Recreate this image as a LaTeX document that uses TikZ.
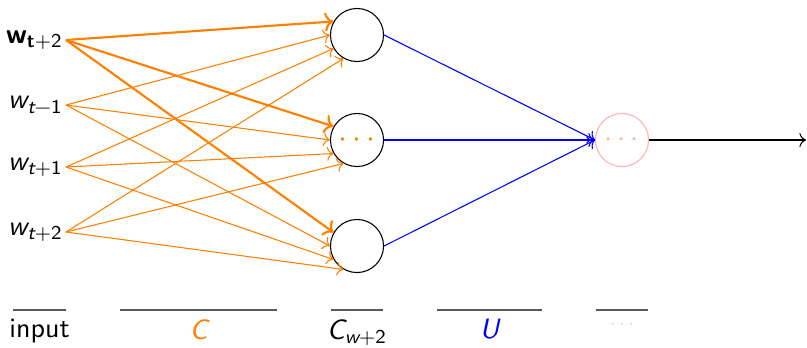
\documentclass[tikz,border=0pt]{standalone}
\usepackage{tikz}
\usetikzlibrary{arrows.meta, positioning, calc}
\definecolor{orange1}{RGB}{255, 128, 0}
\definecolor{blue1}{RGB}{0, 0, 255}
\definecolor{pink1}{RGB}{255, 175, 175}
% sans slanted letters, as in the slides
\newcommand{\sv}[1]{{\slshape #1}}
\newcommand{\svsub}[2]{{\slshape #1}\textsubscript{#2}}

\tikzset{
  neuron/.style={draw, circle, minimum size=19.9pt, inner sep=0pt},
  wlabel/.style={anchor=east, inner sep=1pt},
  ctxedge/.style={->, orange1, line width=0.4pt},
  layerrule/.style={draw, line width=0.4pt, gray!70!black}
}

\begin{document}
\sffamily
\begin{tikzpicture}[x=0.375pt, y=-0.375pt, font=\fontsize{10.5}{12}\selectfont]
  \useasboundingbox (0,0) rectangle (807,347);

  % input words
  \node[wlabel] (in1) at (66,40) {{\bfseries w}\textsubscript{\bfseries t\mdseries +2}};
  \node[wlabel] (in2) at (66,105) {\svsub{w}{\slshape t\upshape −1}};
  \node[wlabel] (in3) at (66,167) {\svsub{w}{\slshape t\upshape +1}};
  \node[wlabel] (in4) at (66,232) {\svsub{w}{\slshape t\upshape +2}};

  % hidden units
  \node[neuron] (hid1) at (357,35) {};
  \node[neuron] (hid2) at (357,140) {\color{orange1}\large$\cdots$};
  \node[neuron] (hid3) at (357,246) {};

  % output
  \node[neuron, draw=pink1] (out) at (622,140) {\color{pink1}$\cdots$};
  \coordinate (end) at (806,140);

  % C
  \foreach \i/\a in {2/180, 3/210, 4/240}
    \foreach \j in {1,2,3}
      \draw[ctxedge] (in\i.east) -- (hid\j.\a);
  \foreach \j in {1,2,3}
    \draw[ctxedge, line width=0.8pt] (in1.east) -- (hid\j.150);

  % U
  \foreach \j in {1,2,3}
    \draw[->, blue1] (hid\j.east) -- (out.west);
  \draw[->] (out.east) -- (end);

  % layer names
  \draw[layerrule] (13,310) -- (66,310) node[midway, below, black] {input};
  \draw[layerrule] (120,310) -- (277,310) node[midway, below, orange1] {\sv{C}};
  \draw[layerrule] (331,310) -- (383,310) node[midway, below, black] {\svsub{C}{\slshape w\upshape +2}};
  \draw[layerrule] (437,310) -- (542,310) node[midway, below, blue1] {\sv{U}};
  \draw[layerrule] (596,310) -- (648,310) node[midway, below=0.5pt, pink1, font=\tiny] {$\cdots$};
\end{tikzpicture}
\end{document}
